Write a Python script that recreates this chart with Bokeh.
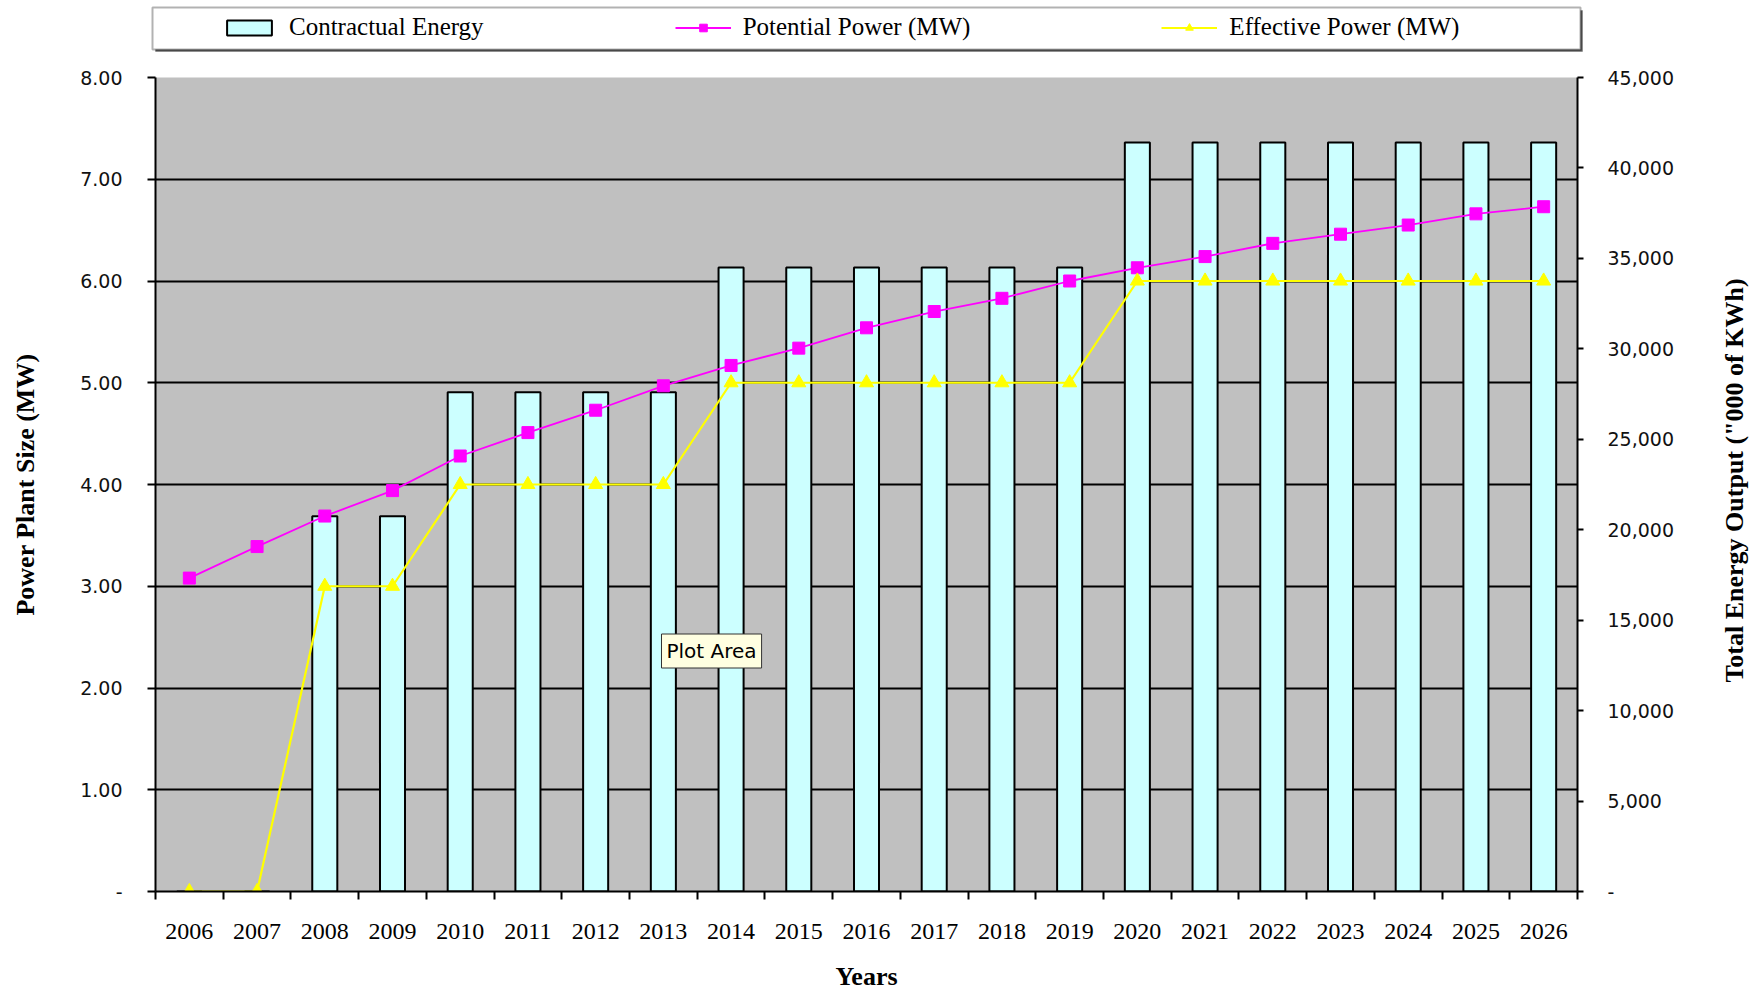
import math
from bokeh.plotting import figure
from bokeh.layouts import column, row
from bokeh.models import (Range1d, LinearAxis, FixedTicker, Legend, LegendItem,
                          BoxAnnotation, Label, NumeralTickFormatter)
from bokeh.embed import file_html
from bokeh.resources import INLINE

# ---------------- data ----------------
years = list(range(2006, 2027))
year_bounds = [y - 0.5 for y in range(2006, 2028)]
contractual_energy = [0, 0, 20750, 20750, 27600, 27600, 27600, 27600,
                      34500, 34500, 34500, 34500, 34500, 34500,
                      41400, 41400, 41400, 41400, 41400, 41400, 41400]
potential_power = [3.08, 3.39, 3.69, 3.94, 4.28, 4.51, 4.73, 4.97, 5.17, 5.34,
                   5.54, 5.70, 5.83, 6.00, 6.13, 6.24, 6.37, 6.46, 6.55, 6.66, 6.73]
effective_power = [0, 0, 3, 3, 4, 4, 4, 4, 5, 5, 5, 5, 5, 5, 6, 6, 6, 6, 6, 6, 6]
left_ticks = [0, 1, 2, 3, 4, 5, 6, 7, 8]
right_ticks = [0, 5000, 10000, 15000, 20000, 25000, 30000, 35000, 40000, 45000]

SERIF = "Liberation Serif"
SANS = "DejaVu Sans"

W, H = 1760, 993
LEG_H = 52                   # height of the legend strip on top
MAIN_W = 1700                # main chart width; the rest holds the right title
FL, FR = 155, 1577           # frame left / right (page px)
FT, FB = 77, 892             # frame top / bottom (page px)

BAR_STYLE = dict(fill_color="#CCFFFF", line_color="black", line_width=2)
POT_LINE = dict(line_color="#FF00FF", line_width=1.8)
POT_MARK = dict(marker="square", size=12, fill_color="#FF00FF", line_color="#FF00FF")
EFF_LINE = dict(line_color="#FFFF00", line_width=2.2)
EFF_MARK = dict(marker="triangle", size=14, fill_color="#FFFF00", line_color="#FFFF00")

# ---------------- main chart ----------------
p = figure(width=MAIN_W, height=H - LEG_H, output_backend="svg", toolbar_location=None,
           x_range=Range1d(2005.5, 2026.5), y_range=Range1d(0, 8),
           min_border_left=FL, min_border_right=MAIN_W - FR,
           min_border_top=FT - LEG_H, min_border_bottom=H - FB,
           background_fill_color="#C0C0C0", border_fill_color="white",
           outline_line_color=None)
p.extra_y_ranges = {"energy": Range1d(0, 45000)}

p.xaxis.ticker = FixedTicker(ticks=years, minor_ticks=year_bounds)
p.xaxis.major_tick_out = 0
p.xaxis.major_tick_in = 0
p.xaxis.minor_tick_out = 8
p.xaxis.minor_tick_in = 0
p.xaxis.minor_tick_line_color = "black"
p.xaxis.minor_tick_line_width = 2
p.xaxis.major_label_text_font = SERIF
p.xaxis.major_label_text_font_size = "24px"
p.xaxis.major_label_text_color = "black"
p.xaxis.major_label_standoff = 24
p.xaxis.axis_line_width = 2
p.xaxis.axis_line_color = "black"
p.xaxis.axis_label = "Years"
p.xaxis.axis_label_text_font = SERIF
p.xaxis.axis_label_text_font_style = "bold"
p.xaxis.axis_label_text_font_size = "26px"
p.xaxis.axis_label_text_color = "black"
p.xaxis.axis_label_standoff = 20

p.yaxis.ticker = FixedTicker(ticks=left_ticks)
p.yaxis.formatter = NumeralTickFormatter(format="0.00")
p.yaxis.major_label_overrides = {0: "-"}
p.yaxis.major_tick_out = 8
p.yaxis.major_tick_in = 0
p.yaxis.major_tick_line_width = 2
p.yaxis.minor_tick_line_color = None
p.yaxis.major_label_text_font = SANS
p.yaxis.major_label_text_font_size = "19px"
p.yaxis.major_label_text_color = "#111111"
p.yaxis.major_label_standoff = 25
p.yaxis.axis_line_width = 2
p.yaxis.axis_line_color = "black"
p.yaxis.axis_label = "Power Plant Size (MW)"
p.yaxis.axis_label_text_font = SERIF
p.yaxis.axis_label_text_font_style = "bold"
p.yaxis.axis_label_text_font_size = "26px"
p.yaxis.axis_label_text_color = "black"
p.yaxis.axis_label_standoff = 37

raxis = LinearAxis(y_range_name="energy", ticker=FixedTicker(ticks=right_ticks),
                   formatter=NumeralTickFormatter(format="0,0"))
raxis.major_label_overrides = {0: "-"}
raxis.major_tick_out = 6
raxis.major_tick_in = 0
raxis.major_tick_line_width = 2
raxis.minor_tick_line_color = None
raxis.major_label_text_font = SANS
raxis.major_label_text_font_size = "19px"
raxis.major_label_text_color = "#111111"
raxis.major_label_standoff = 24
raxis.axis_line_width = 2
raxis.axis_line_color = "black"
p.add_layout(raxis, "right")

p.xgrid.grid_line_color = None
p.ygrid.ticker = FixedTicker(ticks=left_ticks)
p.ygrid.grid_line_color = "black"
p.ygrid.grid_line_width = 2

p.vbar(x=years, top=contractual_energy, width=0.37, y_range_name="energy", **BAR_STYLE)
p.line(years, potential_power, **POT_LINE)
p.scatter(years, potential_power, **POT_MARK)
p.line(years, effective_power, **EFF_LINE)
p.scatter(years, effective_power, **EFF_MARK)

# tooltip-like "Plot Area" box seen in the picture
p.add_layout(Label(x=661 - FL, y=FB - 651.5, x_units="screen", y_units="screen",
                   text="Plot Area", text_align="left", text_baseline="middle",
                   text_font=SANS, text_font_size="20px", text_color="black",
                   background_fill_color="#FFFFE1", border_line_color="#333333",
                   border_line_width=1, padding=5))

# ---------------- right title strip ----------------
t = figure(width=W - MAIN_W, height=H - LEG_H, output_backend="svg",
           toolbar_location=None, x_axis_type=None, y_axis_type=None,
           x_range=Range1d(0, 1), y_range=Range1d(0, 1),
           min_border_left=0, min_border_right=0, min_border_top=0,
           min_border_bottom=0, outline_line_color=None,
           background_fill_color="white", border_fill_color="white")
t.grid.visible = False
t.add_layout(Label(x=1734 - MAIN_W, y=FB - 481,
                   x_units="screen", y_units="screen",
                   text='Total Energy Output ("000 of KWh)', angle=math.pi / 2,
                   text_align="center", text_baseline="middle",
                   text_font=SERIF, text_font_style="bold", text_font_size="26px",
                   text_color="black"))

# ---------------- legend strip ----------------
# legend swatches come from copies of the series; those copies are drawn
# underneath the opaque legend box, so only the swatches are visible
lg = figure(width=W, height=LEG_H, output_backend="svg", toolbar_location=None,
            x_axis_type=None, y_axis_type=None,
            x_range=Range1d(2000, 2040), y_range=Range1d(-30000, 60000),
            min_border_left=0, min_border_right=0, min_border_top=0,
            min_border_bottom=0, outline_line_color=None,
            background_fill_color="white", border_fill_color="white")
lg.grid.visible = False
lb = lg.vbar(x=years, top=contractual_energy, width=0.37, **BAR_STYLE)
lpl = lg.line(years, potential_power, **POT_LINE)
lps = lg.scatter(years, potential_power, **POT_MARK)
lel = lg.line(years, effective_power, **EFF_LINE)
les = lg.scatter(years, effective_power, **EFF_MARK)
lg.add_layout(BoxAnnotation(left=155, right=1582, top=LEG_H - 10, bottom=LEG_H - 51,
                            left_units="screen", right_units="screen",
                            top_units="screen", bottom_units="screen",
                            fill_color="#555555", fill_alpha=1.0, line_color="#555555",
                            line_width=1))
lg.add_layout(BoxAnnotation(left=152, right=1580, top=LEG_H - 7, bottom=LEG_H - 49,
                            left_units="screen", right_units="screen",
                            top_units="screen", bottom_units="screen",
                            fill_color="white", fill_alpha=1.0, line_color="black",
                            line_width=2))
legend = Legend(items=[
    LegendItem(label="Contractual Energy", renderers=[lb]),
    LegendItem(label="Potential Power (MW)", renderers=[lpl, lps]),
    LegendItem(label="Effective Power (MW)", renderers=[lel, les]),
], orientation="horizontal", location=(215, 5), padding=6, spacing=191,
    glyph_width=56, glyph_height=19, label_standoff=12, label_height=24,
    label_text_font=SERIF, label_text_font_size="25px", label_text_color="black",
    border_line_alpha=0, background_fill_alpha=0)
lg.add_layout(legend)

layout = column(lg, row(p, t, spacing=0), spacing=0)
open("out.html", "w").write(file_html(layout, INLINE))
